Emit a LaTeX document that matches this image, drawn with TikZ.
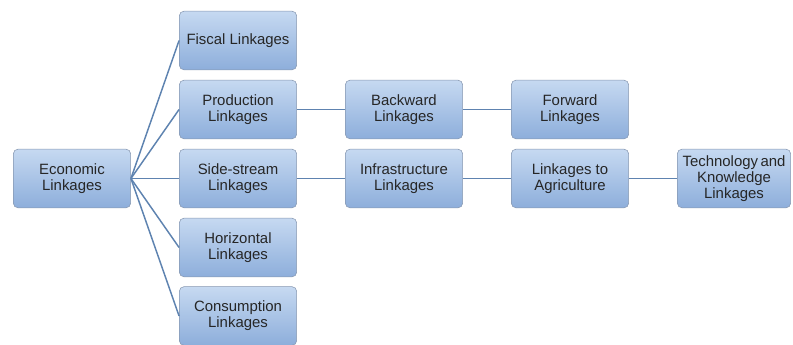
\documentclass[tikz,border=0pt]{standalone}
\usepackage{fontspec}
\setmainfont{Liberation Sans}
\definecolor{boxtop}{HTML}{C6D9F1}
\definecolor{boxbot}{HTML}{8DAEDB}
\definecolor{boxline}{HTML}{8697B0}
\definecolor{linkline}{HTML}{5E83B0}
\tikzset{
	linkbox/.style={draw=boxline,rounded corners=3.5pt,top color=boxtop,bottom color=boxbot,
		minimum width=88pt,minimum height=44pt,inner sep=1pt,align=center,
		font=\fontsize{11.2pt}{12.2pt}\selectfont,text=black!85},
	linkline/.style={draw=linkline,line width=1.1pt}
}
\begin{document}
\begin{tikzpicture}[x=0.75pt,y=-0.75pt]
	\useasboundingbox (0,0) rectangle (793,345);

	% Root
	\node[linkbox] (econ) at (72,178.5) {Economic\\Linkages};

	% First column
	\node[linkbox] (fiscal) at (238,40.5) {Fiscal Linkages};
	\node[linkbox] (prod) at (238,109.5) {Production\\Linkages};
	\node[linkbox] (side) at (238,178.5) {Side-stream\\Linkages};
	\node[linkbox] (horiz) at (238,247.5) {Horizontal\\Linkages};
	\node[linkbox] (cons) at (238,316) {Consumption\\Linkages};

	% Production chain
	\node[linkbox] (back) at (404,109.5) {Backward\\Linkages};
	\node[linkbox] (fwd) at (570,109.5) {Forward\\Linkages};

	% Side-stream chain
	\node[linkbox] (infra) at (404,178.5) {Infrastructure\\Linkages};
	\node[linkbox] (agri) at (570,178.5) {Linkages to\\Agriculture};
	\node[linkbox,minimum width=85pt] (tech) at (734,178.5) {Technology\,and\\Knowledge\\Linkages};

	% Connectors
	\foreach \n in {fiscal,prod,side,horiz,cons}
		\draw[linkline] (econ.east) -- (\n.west);
	\draw[linkline] (prod) -- (back);
	\draw[linkline] (back) -- (fwd);
	\draw[linkline] (side) -- (infra);
	\draw[linkline] (infra) -- (agri);
	\draw[linkline] (agri) -- (tech);
\end{tikzpicture}
\end{document}
